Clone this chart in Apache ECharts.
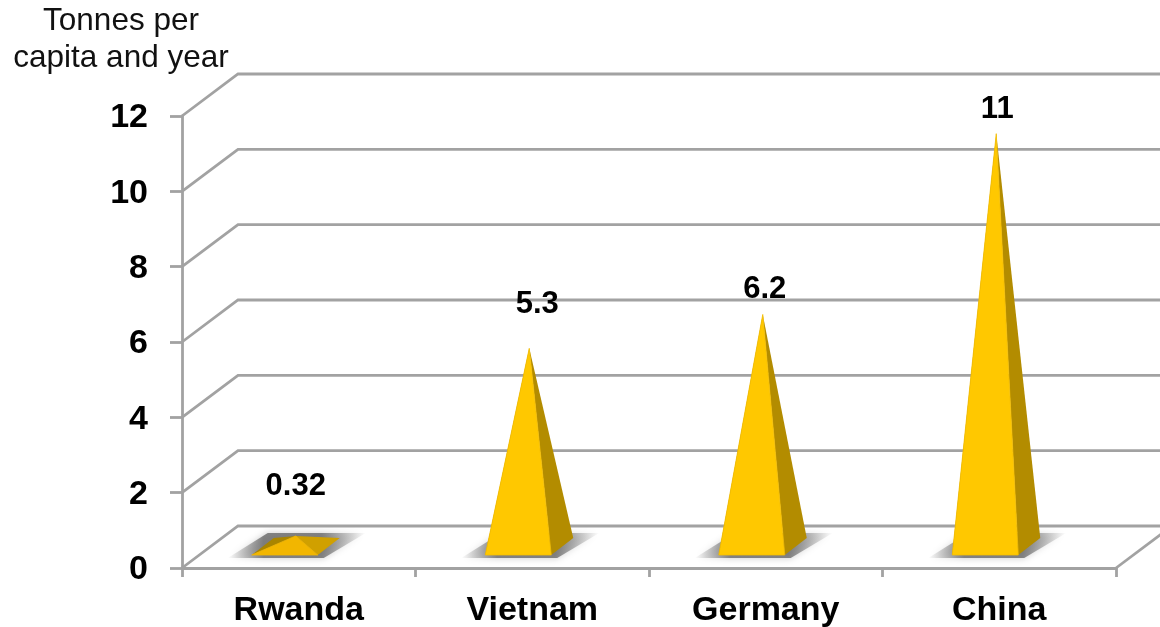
<!DOCTYPE html>
<html>
<head>
<meta charset="utf-8">
<style>html,body{margin:0;padding:0;background:#fff}#chart{width:1160px;height:627px}</style>
<script src="https://cdn.jsdelivr.net/npm/echarts@6/dist/echarts.min.js"></script>
</head>
<body>
<div id="chart"></div>
<script>
// Annual emissions per person, drawn as pyramids on a sheared floor
const countries = ['Rwanda', 'Vietnam', 'Germany', 'China'];
const tonnesPerCapita = [0.32, 5.3, 6.2, 11];
const wallTicks = [0, 2, 4, 6, 8, 10, 12];
const unitLines = 'Tonnes per\ncapita and year';

const FONT = '"Liberation Sans", Arial, sans-serif';
const LINE = '#a2a2a2';
const LINE_W = 2.8;
const DEPTH_X = 56, DEPTH_Y = 42;       // shear of the back wall against the front plane
const BASE_W = 66, BASE_RX = 22, BASE_RY = 17; // pyramid footprint
const FLOOR_LIFT = 13;                  // gap from the front edge of the floor to the base

// Value labels sit at hand-placed offsets from the pyramid tips
const labelShift = { Rwanda: [0, -49], Vietnam: [8, -44], Germany: [2, -25], China: [1, -24] };

function renderWall(params, api) {
  const cs = params.coordSys;
  const v = api.value(0);
  const y = api.coord([0, v])[1];
  const left = cs.x, right = cs.x + cs.width;
  const children = [{
    type: 'polyline',
    shape: { points: [[left, y], [left + DEPTH_X, y - DEPTH_Y], [right + DEPTH_X, y - DEPTH_Y]] },
    style: { fill: null, stroke: LINE, lineWidth: LINE_W }
  }];
  if (v === 0) {
    children.push({
      type: 'line',
      shape: { x1: right, y1: y, x2: right + DEPTH_X, y2: y - DEPTH_Y },
      style: { stroke: LINE, lineWidth: LINE_W }
    });
  }
  return { type: 'group', children };
}

function renderPyramid(params, api) {
  const i = api.value(0), v = api.value(1);
  const origin = api.coord([i, 0]);
  const top = api.coord([i, v]);
  const cx = origin[0] - 3;
  const frontY = origin[1] - FLOOR_LIFT;
  const backY = frontY - BASE_RY;
  const fl = [cx - (BASE_W + BASE_RX) / 2, frontY];
  const fr = [fl[0] + BASE_W, frontY];
  const br = [fr[0] + BASE_RX, backY];
  const bl = [fl[0] + BASE_RX, backY];
  const tip = [cx, frontY - 7 - (origin[1] - top[1])];
  const low = v < 1;  // a nearly flat pyramid catches the light differently
  const shift = labelShift[countries[i]];
  return {
    type: 'group',
    children: [
      {
        type: 'polygon',
        shape: { points: [[fl[0] - 24, frontY + 3], [fr[0] + 6, frontY + 3], [br[0] + 26, backY - 5], [bl[0] - 6, backY - 5]] },
        style: {
          fill: {
            type: 'linear', x: 0, y: 0, x2: 1, y2: 0,
            colorStops: [
              { offset: 0, color: 'rgba(105,105,105,0)' },
              { offset: 0.26, color: 'rgba(105,105,105,0.8)' },
              { offset: 0.68, color: 'rgba(105,105,105,0.8)' },
              { offset: 1, color: 'rgba(105,105,105,0)' }
            ]
          },
          shadowBlur: 7, shadowColor: 'rgba(130,130,130,0.55)'
        }
      },
      { type: 'polygon', shape: { points: [fl, bl, tip] }, style: { fill: '#a98500' } },
      { type: 'polygon', shape: { points: [fr, br, tip] }, style: { fill: low ? '#d0a000' : '#b38c00' } },
      { type: 'polygon', shape: { points: [fl, fr, tip] }, style: { fill: low ? '#f2b600' : '#ffc800', stroke: low ? '#f2b600' : '#f4bc00', lineWidth: 0.8 } },
      {
        type: 'text',
        style: {
          x: tip[0] + shift[0], y: tip[1] + shift[1],
          text: String(v),
          font: 'bold 31px ' + FONT, fill: '#000',
          textAlign: 'center', textVerticalAlign: 'middle'
        }
      }
    ]
  };
}

const chart = echarts.init(document.getElementById('chart'), null, { renderer: 'canvas' });
chart.setOption({
  animation: false,
  backgroundColor: '#fff',
  grid: { left: 182, right: 44, top: 116, bottom: 59, containLabel: false, outerBoundsMode: 'none' },
  xAxis: {
    type: 'category',
    data: countries,
    axisLine: { show: true, lineStyle: { color: LINE, width: LINE_W } },
    axisTick: { show: true, alignWithLabel: false, length: 9, lineStyle: { color: LINE, width: LINE_W } },
    axisLabel: { color: '#000', fontFamily: FONT, fontWeight: 'bold', fontSize: 34, margin: 26 },
    splitLine: { show: false }
  },
  yAxis: {
    type: 'value',
    min: 0, max: 12, interval: 2,
    axisLine: { show: true, lineStyle: { color: LINE, width: LINE_W } },
    axisTick: { show: true, length: 12, lineStyle: { color: LINE, width: LINE_W } },
    axisLabel: {
      margin: 34,
      formatter: '{n|{value}}',
      rich: { n: { color: '#000', fontFamily: FONT, fontWeight: 'bold', fontSize: 34, padding: [4, 0, 0, 0] } }
    },
    splitLine: { show: false }
  },
  graphic: [{
    type: 'text',
    style: {
      x: 121, y: 3,
      text: unitLines,
      font: '31.5px ' + FONT, lineHeight: 37, fill: '#111',
      textAlign: 'center', textVerticalAlign: 'top'
    }
  }],
  series: [
    {
      type: 'custom', name: 'wall', coordinateSystem: 'cartesian2d', clip: false, silent: true, z: 1,
      data: wallTicks.map(t => [t]),
      encode: { y: 0 },
      renderItem: renderWall
    },
    {
      type: 'custom', name: 'tonnes', coordinateSystem: 'cartesian2d', clip: false, silent: true, z: 2,
      data: tonnesPerCapita.map((v, i) => [i, v]),
      encode: { x: 0, y: 1 },
      renderItem: renderPyramid
    }
  ]
});
</script>
</body>
</html>
